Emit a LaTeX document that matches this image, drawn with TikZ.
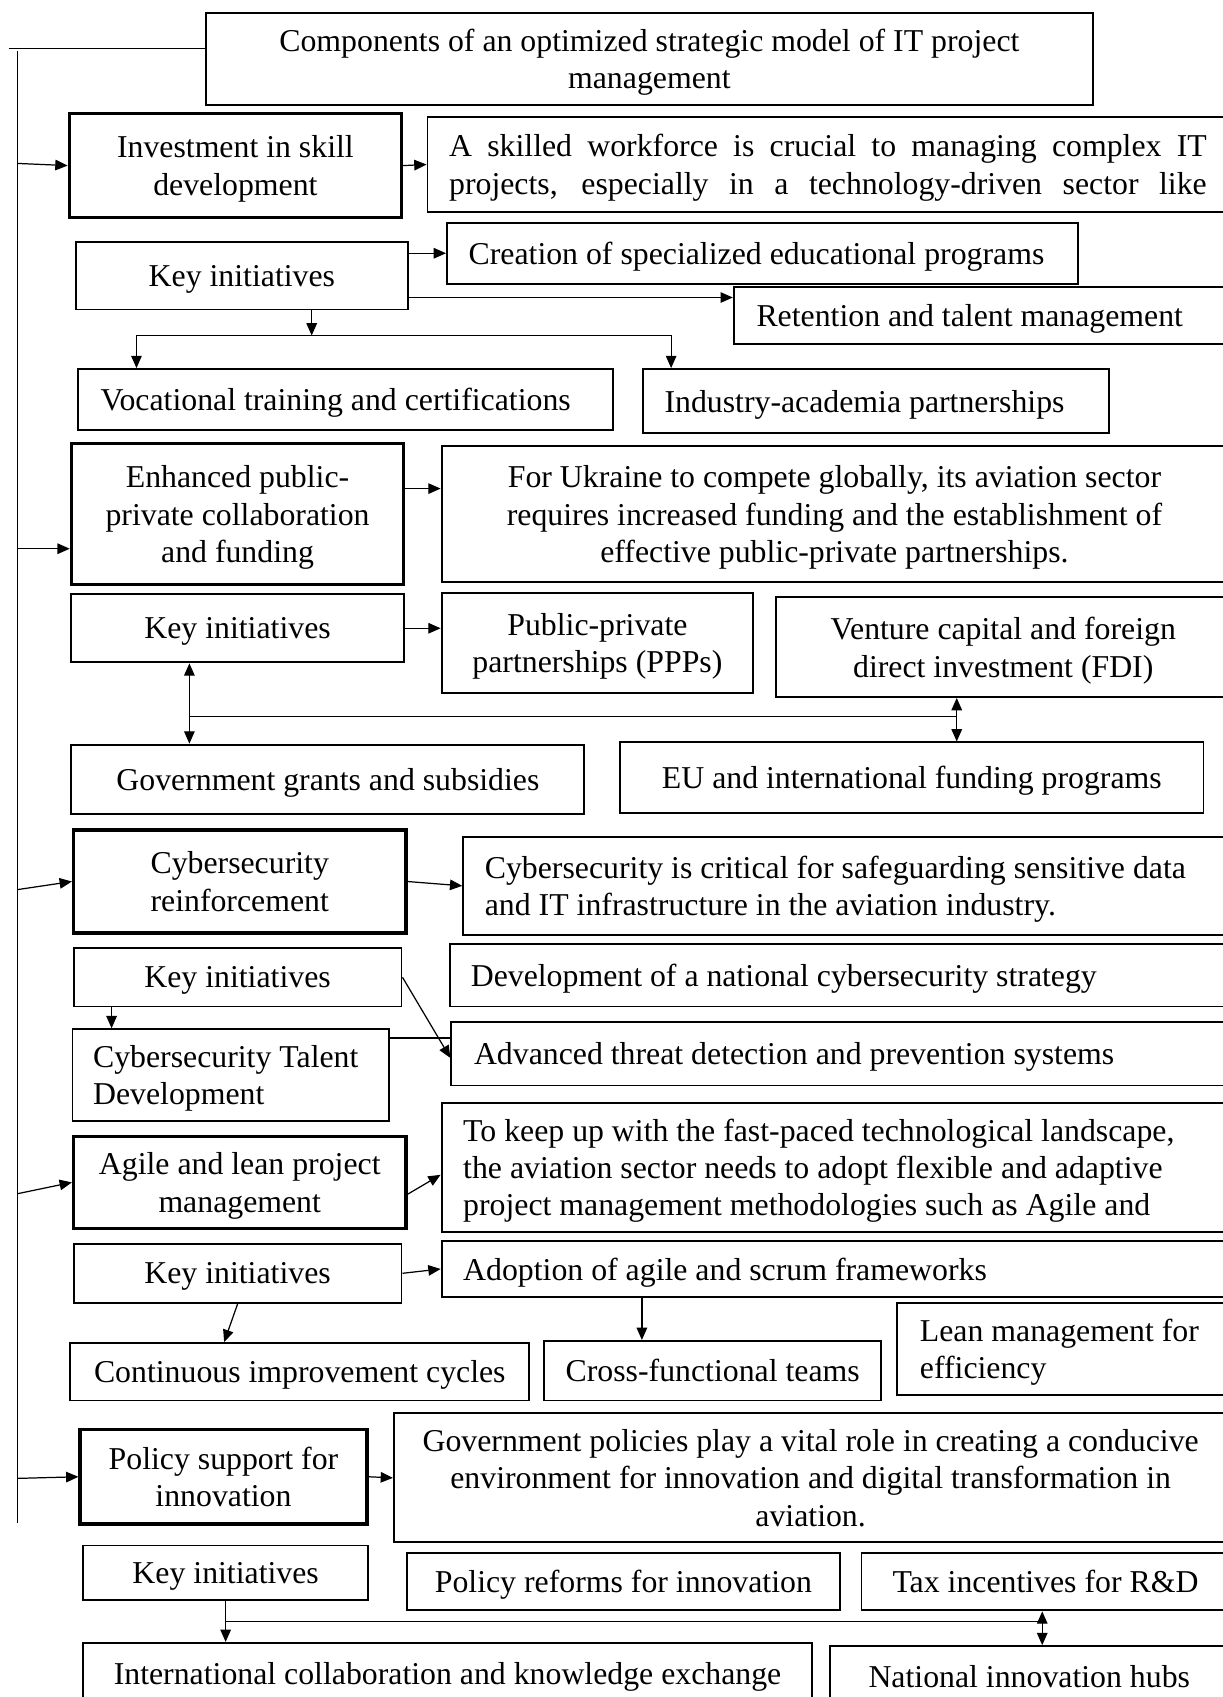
\documentclass[tikz,border=0pt]{standalone}
\usepackage{fontspec}
\setmainfont{Liberation Serif}
\usetikzlibrary{arrows.meta,calc}
\newlength{\unitpx}
\setlength{\unitpx}{0.021646cm}

\begin{document}
\begin{tikzpicture}[x=\unitpx,y=-\unitpx,
    >={Triangle[length=7pt,width=6pt]},
    box/.style={draw,line width=1.1pt,inner sep=0pt,align=center,text depth=0pt,font=\fontsize{18.1}{21.3}\selectfont},
    mainbox/.style={box,line width=1.9pt},
    dims/.style 2 args={minimum width=#1*\unitpx,minimum height=#2*\unitpx},
    tw/.style={align=flush left,text width=#1*\unitpx},
    twolines/.style={text depth=21.3pt},
    threelines/.style={text depth=42.6pt},
    link/.style={line width=0.7pt}]
    \useasboundingbox (0,0) rectangle (1130,1568);
    \clip (0,0) rectangle (1130,1568);

    % Title
    \node[box,dims={820}{85}] (title) at (600,54.5) {Components of an optimized strategic model of IT project\\management};

    % Investment in skill development
    \node[mainbox,dims={307}{96}] (inv) at (217.5,153) {Investment in skill\\development};
    \node[box,dims={740}{88},tw=700,twolines] (invtxt) at (765,152) {\makebox[700\unitpx][s]{A skilled workforce is crucial to managing complex IT}\\\makebox[700\unitpx][s]{projects, especially in a technology-driven sector like}};
    \node[box,dims={307}{62}] (ki1) at (223.5,255) {Key initiatives};
    \node[box,dims={583}{56},tw=543] (creat) at (704.5,234) {Creation of specialized educational programs};
    \node[box,dims={482}{53},tw=440] (reten) at (919,291.5) {Retention and talent management};
    \node[box,dims={494}{56},tw=452] (voc) at (319,369) {Vocational training and certifications};
    \node[box,dims={431}{59},tw=391] (ind) at (809.5,370.5) {Industry-academia partnerships};

    % Public-private collaboration
    \node[mainbox,dims={307}{130}] (enh) at (219.5,475) {Enhanced public-\\private collaboration\\and funding};
    \node[box,dims={726}{126}] (enhtxt) at (771,475) {For Ukraine to compete globally, its aviation sector\\requires increased funding and the establishment of\\effective public-private partnerships.};
    \node[box,dims={307}{63}] (ki2) at (219.5,580.5) {Key initiatives};
    \node[box,dims={288}{92}] (ppp) at (552,594) {Public-private\\partnerships (PPPs)};
    \node[box,dims={420}{92}] (vent) at (927,598) {Venture capital and foreign\\direct investment (FDI)};
    \node[box,dims={474}{64}] (gov) at (303,720) {Government grants and subsidies};
    \node[box,dims={539}{65}] (eu) at (842.5,718.5) {EU and international funding programs};

    % Cybersecurity
    \node[mainbox,dims={307}{95}] (cyb) at (221.5,814.5) {Cybersecurity\\reinforcement};
    \node[box,dims={732}{91},tw=692,twolines] (cybtxt) at (794,818.5) {Cybersecurity is critical for safeguarding sensitive data\\and IT infrastructure in the aviation industry.};
    \node[box,dims={303}{54}] (ki3) at (219.5,903) {Key initiatives};
    \node[box,dims={744}{58},tw=706] (dev) at (788,901) {Development of a national cybersecurity strategy};
    \node[box,dims={743}{59},tw=701] (adv) at (788.5,973.5) {Advanced threat detection and prevention systems};
    \node[box,dims={292}{85},tw=254,twolines] (tal) at (213,993.5) {\mbox{Cybersecurity Talent}\\Development};

    % Agile and lean
    \node[mainbox,dims={307}{85}] (agi) at (221.5,1092.5) {Agile and lean project\\management};
    \node[box,dims={752}{119},tw=712,threelines] (agitxt) at (784,1078.5) {To keep up with the fast-paced technological landscape,\\the aviation sector needs to adopt flexible and adaptive\\project management methodologies such as Agile and};
    \node[box,dims={303}{55}] (ki4) at (219.5,1176.5) {Key initiatives};
    \node[box,dims={752}{51},tw=712] (adop) at (784,1172.5) {Adoption of agile and scrum frameworks};
    \node[box,dims={424}{53}] (cont) at (277,1267.5) {Continuous improvement cycles};
    \node[box,dims={311}{55}] (cross) at (658.5,1266.5) {Cross-functional teams};
    \node[box,dims={331}{85},tw=289,twolines] (lean) at (994.5,1246.5) {\mbox{Lean management for}\\efficiency};

    % Policy support
    \node[mainbox,dims={265}{87}] (pol) at (206.5,1364.5) {Policy support for\\innovation};
    \node[box,dims={770}{119}] (poltxt) at (749,1365.5) {Government policies play a vital role in creating a conducive\\environment for innovation and digital transformation in\\aviation.};
    \node[box,dims={263}{50}] (ki5) at (208.5,1453) {Key initiatives};
    \node[box,dims={400}{53}] (ref) at (576,1461.5) {Policy reforms for innovation};
    \node[box,dims={340}{53}] (tax) at (966,1461.5) {Tax incentives for R\&D};
    \node[box,dims={673}{56}] (intl) at (413.5,1546) {International collaboration and knowledge exchange};
    \node[box,dims={368}{56}] (nat) at (951,1549) {National innovation hubs};

    % Spine
    \coordinate (top) at (8,45);
    \coordinate (s0) at (16,47);
    \coordinate (s6) at (16,1407);
    \draw[link] (top) -- (top -| title.west);
    \draw[link] (s0) -- (s6);
    \coordinate (s1) at (16,151);
    \coordinate (s2) at (16,507);
    \coordinate (s3) at (16,822);
    \coordinate (s4) at (16,1103);
    \coordinate (s5) at (16,1366);
    \draw[link,->] (s1) -- (inv.west);
    \draw[link,->] (s2) -- (s2 -| enh.west);
    \draw[link,->] (s3) -- (cyb.west);
    \draw[link,->] (s4) -- (agi.west);
    \draw[link,->] (s5) -- (pol.west);

    % Skill development links
    \draw[link,->] (inv.east) -- (invtxt.west);
    \draw[link,->] (ki1.east |- creat.west) -- (creat.west);
    \draw[link,->] ($(ki1.south east)+(0,-12)$) coordinate (k1) -- (k1 -| reten.west);
    \coordinate (j1) at (288,310);
    \draw[link,->] (j1 |- ki1.south) -- (j1);
    \draw[link,->] (j1) -| ($(voc.north west)+(55,0)$);
    \draw[link,->] (j1) -| ($(ind.north west)+(27,0)$);

    % Funding links
    \draw[link,->] ($(enh.north east)+(0,43)$) coordinate (e1) -- (e1 -| enhtxt.west);
    \draw[link,->] (ki2.east) -- (ki2.east -| ppp.west);
    \coordinate (j2) at (175,662);
    \coordinate (j3) at (884,662);
    \draw[link,<->] (j2 |- ki2.south) -- (j2 |- gov.north);
    \draw[link] (j2) -- (j3);
    \draw[link,<->] (j3 |- vent.south) -- (j3 |- eu.north);

    % Cybersecurity links
    \draw[link,->] (cyb.east) -- (cybtxt.west);
    \draw[link,->] ($(ki3.south west)+(36,0)$) coordinate (k3) -- (k3 |- tal.north);
    \draw[link,->] (ki3.east) -- ($(adv.west)+(0,4)$);
    \draw[link] ($(tal.north east)+(0,9)$) coordinate (t1) -- (t1 -| adv.west);

    % Agile links
    \draw[link,->] ($(agi.east)+(0,11)$) -- ($(agitxt.west)+(0,7)$);
    \draw[link,->] (ki4.east) -- (adop.west);
    \draw[link,->] (ki4.south) -- ($(cont.north west)+(143,0)$);
    \draw[link,->] ($(adop.south west)+(186,0)$) coordinate (a1) -- (a1 |- cross.north);

    % Policy links
    \draw[link,->] (pol.east) -- (poltxt.west);
    \coordinate (j5) at (208,1498);
    \coordinate (j6) at (963,1498);
    \draw[link,->] (ki5.south) -- (ki5.south |- intl.north);
    \draw[link] (j5) -- (j6);
    \draw[link,<->] (j6 |- tax.south) -- (j6 |- nat.north);
\end{tikzpicture}
\end{document}
